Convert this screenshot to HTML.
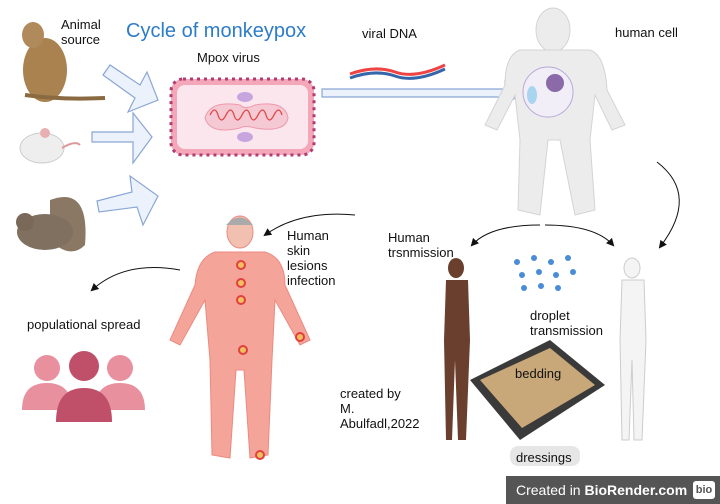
<!DOCTYPE html><html><head><style>
body{margin:0;width:720px;height:504px;background:#fff;position:relative;overflow:hidden;font-family:"Liberation Sans",sans-serif;}
.t{position:absolute;font-size:13px;color:#111;line-height:15px}
</style></head><body>
<svg width="720" height="504" style="position:absolute;left:0;top:0">
<defs><marker id="a" markerWidth="8" markerHeight="8" refX="6" refY="4" orient="auto"><path d="M0,0L8,4L0,8z" fill="#111"/></marker></defs>
<!-- monkey -->
<ellipse cx="45" cy="70" rx="22" ry="32" fill="#a9824f"/><ellipse cx="33" cy="35" rx="11" ry="13" fill="#b08a5a"/><path d="M25 95 Q60 100 105 98" stroke="#8a6a40" stroke-width="4" fill="none"/>
<!-- mouse -->
<ellipse cx="42" cy="148" rx="22" ry="15" fill="#eee" stroke="#ccc"/><circle cx="45" cy="133" r="5" fill="#e8b0b0"/><path d="M62 148 Q75 140 80 145" stroke="#d99" fill="none" stroke-width="2"/>
<!-- squirrel -->
<path d="M50 200 Q90 185 85 245 Q70 260 50 240z" fill="#8a7864"/><ellipse cx="45" cy="232" rx="28" ry="18" fill="#807060"/><circle cx="25" cy="222" r="9" fill="#7a6858"/>
<!-- block arrows -->
<g fill="#ecf2fb" stroke="#8aa6d6" stroke-width="1.2">
<path d="M103 75L110 65L140 85L147 72L158 100L128 112L135 98z"/>
<path d="M92 132L133 132L133 113L152 137L133 163L133 142L92 142z"/>
<path d="M97 201L132 192L130 176L158 196L143 225L137 207L99 212z"/>
<path d="M322 89L505 89L505 81L522 93L505 105L505 97L322 97z"/>
</g>
<!-- virus -->
<rect x="171" y="79" width="143" height="76" rx="12" fill="#f3a7b8" stroke="#b03c72" stroke-width="3" stroke-dasharray="3 4"/>
<rect x="177" y="85" width="131" height="64" rx="8" fill="#fce6ee"/>
<path d="M205 118Q210 100 240 105Q245 110 255 105Q285 100 288 118Q285 133 255 128Q245 125 240 128Q210 135 205 118z" fill="#f5c9d3" stroke="#e9a"/>
<path d="M210 115q5-10 8 0t8 0 8 0 8 0 8 0 8 0 8 0 8 0 8 0" stroke="#d44" fill="none" stroke-width="1.3"/>
<ellipse cx="245" cy="97" rx="8" ry="5" fill="#c7a6e0"/><ellipse cx="245" cy="137" rx="8" ry="5" fill="#c7a6e0"/>
<!-- DNA -->
<path d="M350 74Q375 65 395 72T445 65" stroke="#e44" stroke-width="3" fill="none"/><path d="M350 78Q375 69 395 76T445 69" stroke="#36a" stroke-width="3" fill="none"/>
<!-- gray human -->
<g fill="#ececec" stroke="#d4d4d4">
<ellipse cx="553" cy="30" rx="17" ry="22"/>
<path d="M520 50L590 50Q605 55 607 90L625 125L612 130L595 95L590 140L595 210L575 215L560 140L548 140L540 215L518 210L520 140L515 95L497 130L485 125L505 85Q505 55 520 50z"/>
</g>
<circle cx="548" cy="92" r="25" fill="#f1eef8" stroke="#b8a8d8"/><circle cx="555" cy="83" r="9" fill="#8a6aa8"/><ellipse cx="532" cy="95" rx="5" ry="9" fill="#a8d4f0"/>
<!-- pink human -->
<g fill="#f5a49a" stroke="#eb8a80">
<ellipse cx="240" cy="232" rx="13" ry="16" fill="#f2c0b0"/>
<path d="M215 252L265 252Q285 258 285 285L310 340L300 345L275 300L272 360L268 455L250 458L244 370L236 370L230 458L212 455L210 360L205 300L180 345L170 340L195 285Q197 258 215 252z"/>
</g>
<path d="M226 225Q240 210 253 225" fill="#aaa"/>
<g fill="#f0c060" stroke="#e04040" stroke-width="2"><circle cx="241" cy="265" r="4"/><circle cx="241" cy="283" r="4"/><circle cx="241" cy="300" r="4"/><circle cx="243" cy="350" r="4"/><circle cx="300" cy="337" r="4"/><circle cx="260" cy="455" r="4"/></g>
<!-- people -->
<g fill="#e8909e"><circle cx="47" cy="368" r="13"/><path d="M22 410Q22 383 47 383Q72 383 72 410z"/><circle cx="120" cy="368" r="13"/><path d="M95 410Q95 383 120 383Q145 383 145 410z"/></g>
<g fill="#c0506a"><circle cx="84" cy="366" r="15"/><path d="M56 422Q56 388 84 388Q112 388 112 422z"/></g>
<!-- dark man -->
<g fill="#6a3f2e"><ellipse cx="456" cy="268" rx="8" ry="10"/><path d="M446 280L468 280L470 340L466 440L458 440L455 360L452 440L446 440L444 340z"/></g>
<!-- white man -->
<g fill="#f4f4f4" stroke="#ccc"><ellipse cx="632" cy="268" rx="8" ry="10"/><path d="M622 280L644 280L646 340L642 440L634 440L632 360L629 440L622 440L620 340z"/></g>
<!-- drops -->
<g fill="#4a8cd6"><circle cx="517" cy="262" r="3"/><circle cx="534" cy="258" r="3"/><circle cx="551" cy="262" r="3"/><circle cx="568" cy="258" r="3"/><circle cx="522" cy="275" r="3"/><circle cx="539" cy="272" r="3"/><circle cx="556" cy="275" r="3"/><circle cx="573" cy="272" r="3"/><circle cx="524" cy="288" r="3"/><circle cx="541" cy="286" r="3"/><circle cx="558" cy="288" r="3"/></g>
<!-- bedding -->
<path d="M470 380L550 340L605 385L520 440z" fill="#3a3a3a"/><path d="M480 380L550 348L595 385L522 428z" fill="#c8a878"/>
<rect x="510" y="446" width="70" height="20" rx="8" fill="#e6e6e6"/>
<!-- arrows -->
<g stroke="#111" fill="none" stroke-width="1"><path d="M355 215Q300 210 265 235" marker-end="url(#a)" stroke-dasharray="40 0"/>
<path d="M180 270Q125 260 92 290" marker-end="url(#a)"/>
<path d="M540 225Q490 225 472 245" marker-end="url(#a)"/><path d="M545 225Q595 225 613 245" marker-end="url(#a)"/>
<path d="M657 162Q700 195 660 247" marker-end="url(#a)"/></g>
<rect x="506" y="476" width="214" height="28" fill="#555"/>
</svg>
<div class="t" style="left:61px;top:17px">Animal<br>source</div>
<div class="t" style="left:126px;top:20px;font-size:20px;color:#2d7cc8;line-height:22px">Cycle of monkeypox</div>
<div class="t" style="left:197px;top:50px">Mpox virus</div>
<div class="t" style="left:362px;top:26px">viral DNA</div>
<div class="t" style="left:615px;top:25px">human cell</div>
<div class="t" style="left:287px;top:228px">Human<br>skin<br>lesions<br>infection</div>
<div class="t" style="left:388px;top:230px">Human<br>trsnmission</div>
<div class="t" style="left:27px;top:317px">populational spread</div>
<div class="t" style="left:530px;top:308px">droplet<br>transmission</div>
<div class="t" style="left:515px;top:366px">bedding</div>
<div class="t" style="left:340px;top:386px">created by<br>M.<br>Abulfadl,2022</div>
<div class="t" style="left:516px;top:450px">dressings</div>
<div class="t" style="left:516px;top:483px;color:#fff;font-size:14px">Created in <b>BioRender.com</b></div>
<div style="position:absolute;left:693px;top:481px;width:22px;height:18px;background:#fff;border-radius:3px;font:bold 11px 'Liberation Sans';color:#555;text-align:center;line-height:18px">bio</div>
</body></html>
